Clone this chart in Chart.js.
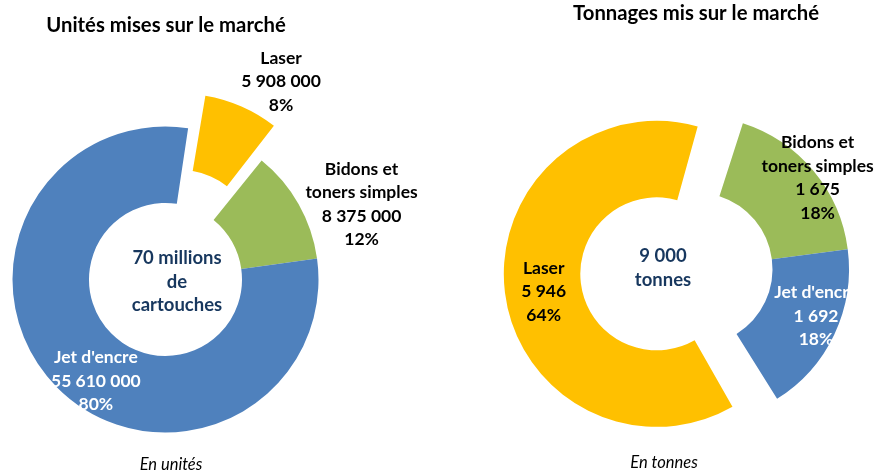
<!DOCTYPE html>
<html>
<head>
<meta charset="utf-8">
<script src="https://cdn.jsdelivr.net/npm/chart.js@4.4.1/dist/chart.umd.min.js"></script>
<style>
  body { margin: 0; background: #fff; }
  #wrap { position: relative; width: 876px; height: 474px; }
  canvas { position: absolute; top: 0; }
</style>
</head>
<body>
<div id="wrap">
  <canvas id="unitsChart" width="438" height="474" style="left:0"></canvas>
  <canvas id="tonsChart" width="438" height="474" style="left:438px"></canvas>
</div>
<script>
// Data
const categories = ["Laser", ["Bidons et", "toners simples"], "Jet d'encre"];
const unitValues = [5908000, 8375000, 55610000];
const tonValues = [5946, 1675, 1692];
const unitCenterText = ["70 millions", "de", "cartouches"];
const tonCenterText = ["9 000", "tonnes"];
const chartTitles = ["Unités mises sur le marché", "Tonnages mis sur le marché"];
const chartNotes = ["En unités", "En tonnes"];

const sliceColors = ["#FFC000", "#9BBB59", "#4F81BD"];
const labelColors = ["#000000", "#000000", "#ffffff"];
const FONT = "Lato, 'Open Sans', sans-serif";

// 5908000 -> "5 908 000"
function formatNumber(v) {
  return String(v).replace(/\B(?=(\d{3})+(?!\d))/g, " ");
}

// Chart.js grows an exploded arc's radius a bit; undo that so the slice is only moved
const keepRadius = {
  id: "keepRadius",
  afterUpdate(chart) {
    chart.getDatasetMeta(0).data.forEach((arc) => {
      const off = (arc.options.offset || 0) / 4;
      const fix = 1 - Math.sin(Math.min(Math.PI, arc.circumference));
      arc.outerRadius -= off * fix;
      arc.innerRadius -= off * fix;
    });
  },
};

// Draws slice labels, centre text, title and note
const textPlugin = {
  id: "textBits",
  afterDatasetsDraw(chart, args, opts) {
    const ctx = chart.ctx;
    const meta = chart.getDatasetMeta(0);
    const values = chart.data.datasets[0].data;
    const total = values.reduce((a, b) => a + b, 0);
    ctx.save();
    ctx.textAlign = "center";
    ctx.textBaseline = "middle";

    // slice labels: name, value, percent
    ctx.font = "bold 17.5px " + FONT;
    meta.data.forEach((arc, i) => {
      const [shift, r] = opts.anchors[i];
      const mid = (arc.startAngle + arc.endAngle) / 2 + shift * Math.PI / 180;
      const x = arc.x + r * Math.cos(mid);
      const y = arc.y + r * Math.sin(mid);
      const name = chart.data.labels[i];
      const lines = [].concat(name, formatNumber(values[i]), Math.round(values[i] / total * 100) + "%");
      const lh = 23.5;
      ctx.fillStyle = labelColors[i];
      lines.forEach((t, k) => {
        ctx.fillText(t, x, y + (k - (lines.length - 1) / 2) * lh);
      });
    });

    // centre text
    const c = meta.data[0];
    ctx.fillStyle = "#17375E";
    ctx.font = "bold 18.5px " + FONT;
    opts.center.forEach((t, k) => {
      ctx.fillText(t, c.x + opts.centerShift[0], c.y + opts.centerShift[1] + (k - (opts.center.length - 1) / 2) * 23.5);
    });

    // title and note
    ctx.fillStyle = "#000";
    ctx.font = "bold 20.3px " + FONT;
    ctx.fillText(opts.title, opts.titlePos[0], opts.titlePos[1]);
    ctx.font = "italic 16.5px " + FONT;
    ctx.fillText(opts.note, opts.notePos[0], opts.notePos[1]);
    ctx.restore();
  },
};

function makeDonut(id, values, rotation, offsets, padding, text) {
  return new Chart(document.getElementById(id), {
    type: "doughnut",
    data: {
      labels: categories,
      datasets: [
        {
          data: values,
          backgroundColor: sliceColors,
          borderWidth: 0,
          offset: offsets,
          clip: false,
        },
      ],
    },
    options: {
      responsive: false,
      animation: false,
      events: [],
      rotation: rotation,
      radius: 153,
      cutout: "50%",
      layout: { padding: padding },
      plugins: {
        legend: { display: false },
        tooltip: { enabled: false },
        textBits: text,
      },
    },
    plugins: [keepRadius, textPlugin],
  });
}

// Left: units, laser slice pulled out (offset/4 = shift in px)
makeDonut("unitsChart", unitValues, 8.5, [144, 0, 0],
  { left: 0, right: 107, top: 85, bottom: 0 },
  {
    anchors: [[6.6, 229], [8.5, 210], [-10.8, 123]],
    center: unitCenterText,
    centerShift: [11.5, 2.5],
    title: chartTitles[0],
    titlePos: [166, 25],
    note: chartNotes[0],
    notePos: [171, 465],
  });

// Right: tonnages, laser slice pulled out
makeDonut("tonsChart", tonValues, 148, [158, 0, 0],
  { left: 78, right: 0, top: 64, bottom: 0 },
  {
    anchors: [[-1.4, 154], [2.9, 152], [-3.8, 129]],
    center: tonCenterText,
    centerShift: [-33, -1],
    title: chartTitles[1],
    titlePos: [258, 13],
    note: chartNotes[1],
    notePos: [226, 463],
  });
</script>
</body>
</html>
